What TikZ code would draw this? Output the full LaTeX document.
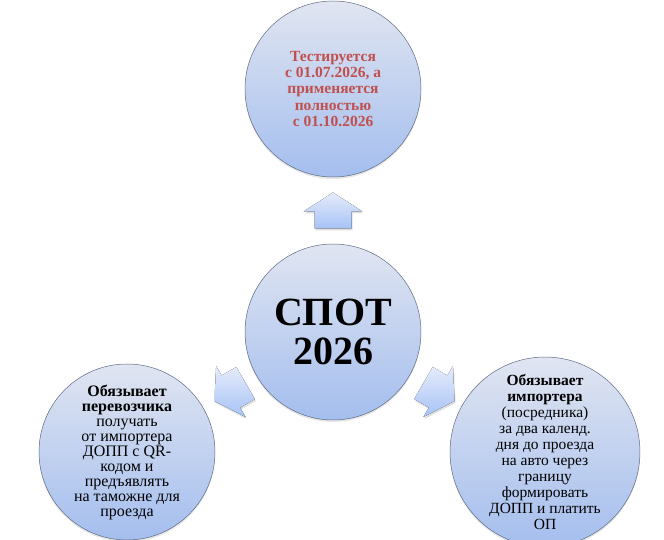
\documentclass[tikz,border=0pt]{standalone}
\usepackage{fontspec}
\setmainfont{Liberation Serif}
\usetikzlibrary{calc,shadows}
\definecolor{balltop}{RGB}{224,229,241}
\definecolor{ballbot}{RGB}{164,190,238}
\definecolor{ballline}{RGB}{95,108,130}
\definecolor{arrtop}{RGB}{230,236,250}
\definecolor{arrbot}{RGB}{166,194,246}
\definecolor{datered}{RGB}{192,80,77}

\begin{document}
\begin{tikzpicture}[x=1pt,y=1pt]
\tikzstyle{ball} = [circle,minimum size=176pt,inner sep=0pt,align=center,
  top color=balltop,bottom color=ballbot,draw=ballline,line width=0.5pt,
  drop shadow={shadow xshift=0pt,shadow yshift=-2pt,opacity=.2}]
\tikzstyle{blockarrow} = [top color=arrtop,bottom color=arrbot,
  drop shadow={shadow xshift=1pt,shadow yshift=-2pt,opacity=.25}]

\useasboundingbox (0,0) rectangle (664,540);

\node[ball,font=\bfseries\fontsize{40}{39}\selectfont] (spot) at (333,208) {СПОТ\\2026};

\node[ball,text=datered,font=\bfseries\fontsize{15.5}{16.4}\selectfont] (test) at (333,451)
  {Тестируется\\с 01.07.2026, а\\применяется\\полностью\\с 01.10.2026};

\node[ball,font=\fontsize{16}{15}\selectfont] (carrier) at (127,88)
  {\textbf{Обязывает}\\\textbf{перевозчика}\\получать\\от импортера\\ДОПП с QR-\\кодом и\\предъявлять\\на таможне для\\проезда};

\node[ball,font=\fontsize{15.5}{15.9}\selectfont] (importer) at (545,88)
  {\textbf{Обязывает}\\\textbf{импортера}\\(посредника)\\за два календ.\\дня до проезда\\на авто через\\границу\\формировать\\ДОПП и платить\\ОП};

% block arrows between the circles
\foreach \ang/\who in {90/test,210/carrier,330/importer}
  \fill[blockarrow,shift={($(spot)!0.5!(\who)$)},rotate=\ang]
    (-18,-18.5) -- (-1,-18.5) -- (-1,-29.5) -- (18,0) -- (-1,29.5) -- (-1,18.5) -- (-18,18.5) -- cycle;
\end{tikzpicture}
\end{document}
